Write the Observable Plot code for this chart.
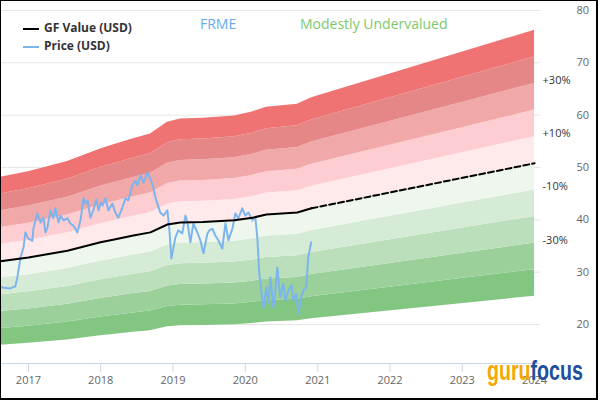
<!DOCTYPE html>
<html>
<head>
<meta charset="utf-8">
<script src="https://cdn.jsdelivr.net/npm/d3@7"></script>
<script src="https://cdn.jsdelivr.net/npm/@observablehq/plot@0.6"></script>
<style>
  html, body { margin: 0; padding: 0; background: #fff; }
  #wrap { position: relative; width: 600px; height: 400px; font-family: "Open Sans", sans-serif; }
  #border { position: absolute; left: 0; top: 0; width: 595px; height: 397px; border-left: 1px solid #000; border-top: 1px solid #000; border-right: 2px solid #000; border-bottom: 2px solid #000; pointer-events: none; }
  .leg { position: absolute; font-size: 12px; font-weight: bold; color: #333; white-space: nowrap; }
  .sw { position: absolute; width: 16px; height: 2px; }
  .ttl { position: absolute; font-size: 14px; white-space: nowrap; }
  #logo { position: absolute; left: 487px; top: 356px; font-family: "Liberation Sans", Arial, sans-serif; font-weight: bold; font-size: 28px; line-height: 30px; transform: scaleX(0.7); transform-origin: 0 0; white-space: nowrap; }
</style>
</head>
<body>
<div id="wrap">
  <div id="chart"></div>
  <div class="sw" style="left:23px;top:28px;background:#000;"></div>
  <div class="leg" style="left:44px;top:19px;">GF Value (USD)</div>
  <div class="sw" style="left:23px;top:46px;background:#7cb5ec;"></div>
  <div class="leg" style="left:44px;top:37px;">Price (USD)</div>
  <div class="ttl" style="left:200px;top:14px;color:#66aaee;">FRME</div>
  <div class="ttl" style="left:300px;top:14px;color:#7cc96c;">Modestly Undervalued</div>
  <div id="logo"><span style="color:#f5a800">guru</span><span style="color:#1c4f9c">focus</span></div>
  <div id="border"></div>
</div>
<script>
// GF Value (USD) line — last point is the projected (dashed) part
const gfDates = ["2016-08-13","2017-01-01","2017-07-17","2017-12-31","2018-02-20","2018-06-15","2018-09-09","2018-12-04","2019-02-07","2019-06-01","2019-11-07","2020-02-06","2020-04-17","2020-09-20","2020-12-01","2024-01-01"];
const gfValues = [32.1,32.8,34.1,35.7,36.1,37.0,37.6,39.1,39.5,39.6,39.9,40.4,41.0,41.4,42.2,50.8];
const gfProjectionStart = "2020-12-01";

// Price (USD)
const priceDates = ["2016-08-13","2016-10-02","2016-10-27","2016-11-06","2016-11-22","2016-12-07","2016-12-17","2017-01-01","2017-01-21","2017-01-26","2017-02-15","2017-03-03","2017-03-18","2017-03-28","2017-04-07","2017-04-22","2017-05-07","2017-05-17","2017-06-02","2017-06-12","2017-06-27","2017-07-17","2017-08-01","2017-08-16","2017-09-05","2017-09-21","2017-10-06","2017-10-16","2017-10-26","2017-11-10","2017-11-25","2017-12-10","2017-12-21","2018-01-01","2018-01-10","2018-01-25","2018-02-09","2018-03-01","2018-03-16","2018-03-31","2018-04-21","2018-05-06","2018-05-21","2018-06-10","2018-06-25","2018-07-05","2018-07-20","2018-08-05","2018-08-25","2018-09-09","2018-09-24","2018-10-04","2018-10-14","2018-10-29","2018-11-14","2018-12-04","2018-12-14","2018-12-24","2019-01-13","2019-01-28","2019-02-17","2019-03-05","2019-03-15","2019-03-30","2019-04-14","2019-05-04","2019-05-19","2019-06-04","2019-06-24","2019-07-04","2019-07-19","2019-08-03","2019-08-18","2019-09-07","2019-09-23","2019-10-08","2019-10-28","2019-11-12","2019-11-27","2019-12-17","2020-01-01","2020-01-17","2020-02-06","2020-02-21","2020-03-02","2020-03-12","2020-03-27","2020-04-01","2020-04-17","2020-04-27","2020-05-07","2020-05-22","2020-06-01","2020-06-11","2020-06-26","2020-07-11","2020-07-22","2020-08-06","2020-08-21","2020-08-31","2020-09-15","2020-09-25","2020-10-10","2020-10-20","2020-11-04","2020-11-14","2020-11-29"];
const priceValues = [27.1,26.9,27.3,29.0,32.8,34.7,37.6,36.4,36.0,38.3,41.2,39.5,40.4,37.6,38.5,41.8,40.3,42.2,39.5,40.8,39.9,40.3,39.3,38.9,37.6,39.9,44.1,43.1,43.7,40.4,41.8,43.9,41.8,43.3,42.7,44.1,41.8,43.1,41.4,40.4,42.4,44.1,43.7,46.6,47.5,46.6,48.5,47.1,49.0,47.9,46.2,44.3,43.1,41.4,40.8,41.8,38.0,32.6,36.6,38.0,37.4,40.8,39.5,35.7,39.3,37.6,36.1,33.6,37.4,38.0,38.3,37.0,36.1,34.5,39.3,36.1,38.3,41.2,40.3,42.2,40.8,41.4,39.9,40.4,36.6,29.7,24.6,23.2,27.1,24.0,29.0,23.2,26.5,30.9,25.2,27.8,24.6,26.5,27.5,24.6,25.9,22.1,25.2,26.5,27.1,32.8,35.7];

// Valuation bands: multiples of GF Value, from bottom (-50%) to top (+50%)
const bandMultipliers = [0.5,0.6,0.7,0.8,0.9,1.0,1.1,1.2,1.3,1.4,1.5];
const bandColors = ["#82c682","#9bd09b","#badfba","#d6ebd6","#eef6ee","#ffe9eb","#fdcdd2","#f0a8a8","#e68787","#f07373"];
const bandLabelText = ["+30%","+10%","-10%","-30%"];
const bandLabelOffsets = [0.3,0.1,-0.1,-0.3];

const yTicks = [20,30,40,50,60,70,80];
const yearTicks = ["2017","2018","2019","2020","2021","2022","2023","2024"];

const gf = gfDates.map((d,i) => ({date: new Date(d), value: gfValues[i]}));
const price = priceDates.map((d,i) => ({date: new Date(d), value: priceValues[i]}));
const projStart = new Date(gfProjectionStart);
const gfSolid = gf.filter(d => d.date <= projStart);
const gfDashed = gf.filter(d => d.date >= projStart);
const lastGF = gf[gf.length - 1];
const pctLabels = bandLabelText.map((t,i) => ({text: t, date: lastGF.date, value: lastGF.value * (1 + bandLabelOffsets[i])}));

const xDomain = [new Date("2016-08-13"), new Date("2024-01-31")];
const yDomain = [12.55, 81.9];

const bandMarks = bandColors.map((c,k) => Plot.areaY(gf, {
  x: "date",
  y1: d => d.value * bandMultipliers[k],
  y2: d => d.value * bandMultipliers[k+1],
  fill: c
}));

const chart = Plot.plot({
  width: 600,
  height: 400,
  marginLeft: 0,
  marginRight: 60,
  marginTop: 0,
  marginBottom: 37,
  style: {fontFamily: "'Open Sans', sans-serif", fontSize: "11px", background: "transparent"},
  x: {type: "utc", domain: xDomain},
  y: {domain: yDomain},
  marks: [
    Plot.ruleY(yTicks, {stroke: "#e6e6e6", strokeWidth: 1}),
    ...bandMarks,
    Plot.ruleY([yDomain[0]], {stroke: "#ccd6eb", strokeWidth: 1}),
    Plot.axisX({ticks: yearTicks.map(y => new Date(y + "-01-01")), tickFormat: d3.utcFormat("%Y"), tickSize: 9, tickPadding: 4, stroke: "#ccd6eb", fill: "#666", fontSize: 11, label: null}),
    Plot.axisY({anchor: "right", ticks: yTicks, tickSize: 0, tickPadding: 36, fill: "#666", fontSize: 11, label: null}),
    Plot.line(price, {x: "date", y: "value", stroke: "#7cb5ec", strokeWidth: 2}),
    Plot.line(gfSolid, {x: "date", y: "value", stroke: "#000", strokeWidth: 2}),
    Plot.line(gfDashed, {x: "date", y: "value", stroke: "#000", strokeWidth: 2, strokeDasharray: "6,3"}),
    Plot.text(pctLabels, {x: "date", y: "value", text: "text", dx: 8, dy: -3, textAnchor: "start", fill: "#333", fontSize: 11})
  ]
});
document.getElementById("chart").appendChild(chart);
</script>
</body>
</html>
